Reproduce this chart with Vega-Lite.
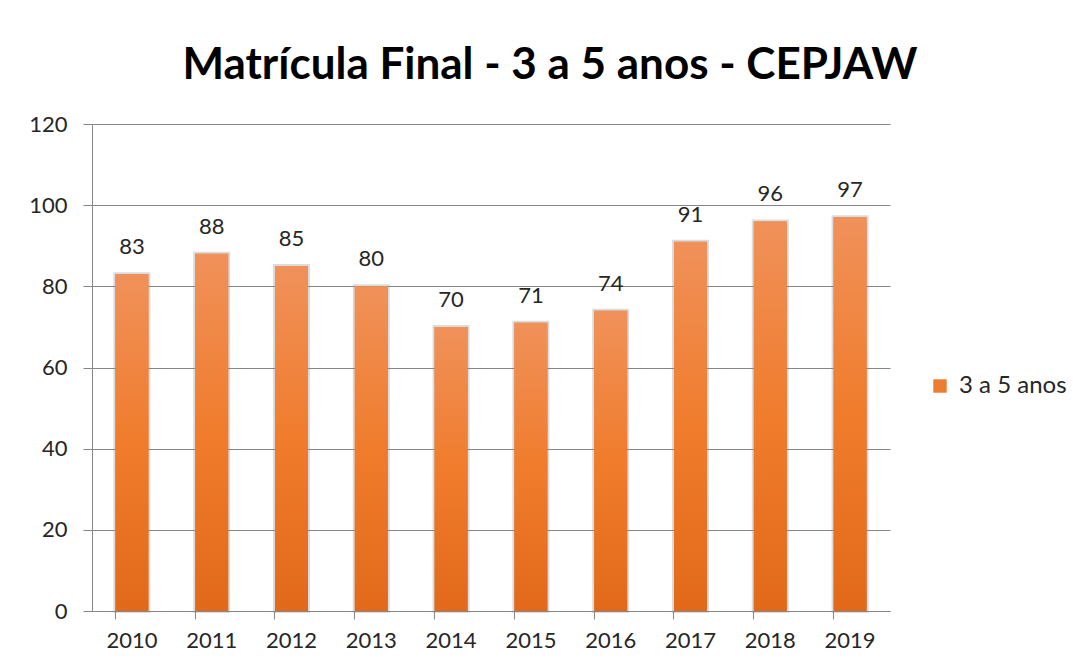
{
  "$schema": "https://vega.github.io/schema/vega-lite/v6.json",
  "width": 798,
  "height": 487,
  "autosize": {"type": "none"},
  "padding": {"left": 92, "top": 124, "right": 185, "bottom": 58},
  "background": "white",
  "config": {
    "font": "Lato",
    "view": {"stroke": null},
    "axis": {"labelFont": "Lato", "labelFontSize": 22, "labelColor": "#262626", "domainColor": "#868686", "tickColor": "#868686", "gridColor": "#868686"}
  },
  "title": {
    "text": "Matrícula Final - 3 a 5 anos - CEPJAW",
    "font": "Lato",
    "fontSize": 44,
    "fontWeight": "bold",
    "color": "#000000",
    "anchor": "middle",
    "frame": "group",
    "dx": 59,
    "offset": 25
  },
  "data": {
    "values": [
      {"ano": "2010", "valor": 83, "serie": "3 a 5 anos"},
      {"ano": "2011", "valor": 88, "serie": "3 a 5 anos"},
      {"ano": "2012", "valor": 85, "serie": "3 a 5 anos"},
      {"ano": "2013", "valor": 80, "serie": "3 a 5 anos"},
      {"ano": "2014", "valor": 70, "serie": "3 a 5 anos"},
      {"ano": "2015", "valor": 71, "serie": "3 a 5 anos"},
      {"ano": "2016", "valor": 74, "serie": "3 a 5 anos"},
      {"ano": "2017", "valor": 91, "serie": "3 a 5 anos"},
      {"ano": "2018", "valor": 96, "serie": "3 a 5 anos"},
      {"ano": "2019", "valor": 97, "serie": "3 a 5 anos"}
    ]
  },
  "resolve": {"axis": {"x": "independent"}},
  "layer": [
    {
      "mark": {"type": "bar", "stroke": "#8a8a8a", "strokeWidth": 4, "strokeOpacity": 0.3},
      "encoding": {
        "x": {
          "field": "ano", "type": "ordinal",
          "scale": {"paddingInner": 0.586, "paddingOuter": 0.293},
          "axis": {"orient": "bottom", "bandPosition": 0, "labels": false, "title": null, "tickSize": 8, "ticks": true, "domain": true, "grid": false}
        },
        "y": {
          "field": "valor", "type": "quantitative",
          "scale": {"domain": [0, 120]},
          "axis": {"values": [0, 20, 40, 60, 80, 100, 120], "title": null, "tickSize": 9, "labelPadding": 16, "grid": true, "gridWidth": 1, "domain": true}
        },
        "color": {
          "field": "serie", "type": "nominal",
          "scale": {"range": ["#ED7D31"]},
          "legend": {
            "title": null,
            "orient": "none",
            "legendX": 836,
            "legendY": 250,
            "symbolType": "square",
            "symbolSize": 180,
            "symbolStrokeWidth": 0,
            "symbolOpacity": 1,
            "labelFont": "Lato",
            "labelFontSize": 24,
            "labelColor": "#262626",
            "labelOffset": 7
          }
        }
      }
    },
    {
      "mark": {
        "type": "bar",
        "fill": {
          "gradient": "linear",
          "x1": 0, "y1": 0, "x2": 0, "y2": 1,
          "stops": [
            {"offset": 0, "color": "#F0915A"},
            {"offset": 0.5, "color": "#F07C2C"},
            {"offset": 1, "color": "#E2691A"}
          ]
        }
      },
      "encoding": {
        "x": {
          "field": "ano", "type": "ordinal",
          "axis": {"orient": "bottom", "title": null, "ticks": false, "domain": false, "labelAngle": 0, "labelPadding": 19, "grid": false}
        },
        "y": {"field": "valor", "type": "quantitative"}
      }
    },
    {
      "mark": {"type": "text", "baseline": "alphabetic", "dy": -20, "font": "Lato", "fontSize": 22, "color": "#262626"},
      "encoding": {
        "x": {"field": "ano", "type": "ordinal", "axis": null},
        "y": {"field": "valor", "type": "quantitative"},
        "text": {"field": "valor", "type": "quantitative"}
      }
    }
  ]
}
